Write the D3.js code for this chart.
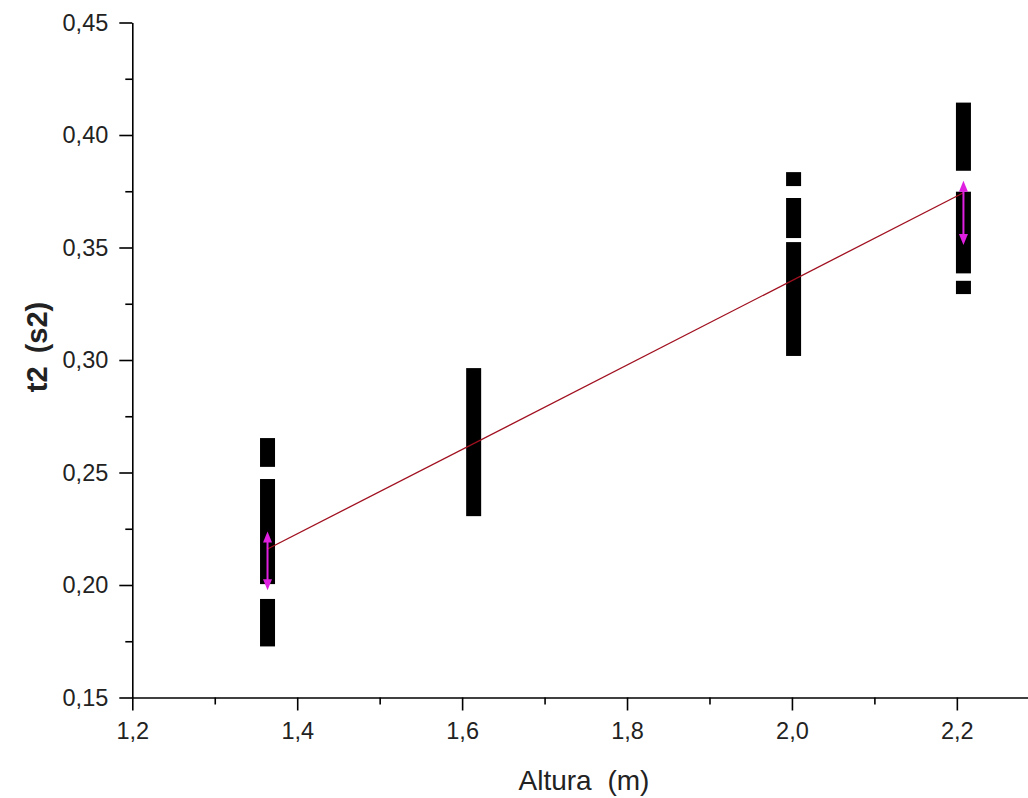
<!DOCTYPE html>
<html>
<head>
<meta charset="utf-8">
<script src="https://cdn.jsdelivr.net/npm/d3@7"></script>
<style>
  body { margin: 0; background: #fff; }
  svg { display: block; font-family: "Liberation Sans", Arial, sans-serif; }
</style>
</head>
<body>
<div id="chart"></div>
<script>
// bars: each altura has a few stacked black segments [bottom, top] in t2 units
var barX = [1.364, 1.614, 2.002, 2.208];
var barSegs = [
    [[0.1727, 0.1938], [0.2004, 0.2471], [0.2525, 0.2653]],
    [[0.2306, 0.2964]],
    [[0.3018, 0.3524], [0.3542, 0.3720], [0.3773, 0.3835]],
    [[0.3293, 0.3352], [0.3385, 0.3748], [0.3841, 0.4144]]
];

// magenta error arrows
var errX = [1.364, 2.208];
var errLow = [0.1977, 0.3511];
var errHigh = [0.2238, 0.3797];

// linear fit
var fitSlope = 0.1876;
var fitIntercept = -0.0399;

var xTicks = [1.2, 1.4, 1.6, 1.8, 2.0, 2.2];
var yTicks = [0.15, 0.20, 0.25, 0.30, 0.35, 0.40, 0.45];

var width = 1028, height = 798;

var svg = d3.select("#chart").append("svg")
    .attr("width", width)
    .attr("height", height);

var x = d3.scaleLinear().domain([1.2, 2.3]).range([132.3, 1039.3]);
var y = d3.scaleLinear().domain([0.15, 0.45]).range([697.5, 22.5]);

var loc = d3.formatLocale({decimal: ",", thousands: ".", grouping: [3], currency: ["", ""]});
var fx = loc.format(".1f"), fy = loc.format(".2f");

// minor ticks first
svg.append("g")
    .attr("transform", "translate(0,697.5)")
    .call(d3.axisBottom(x).tickValues(d3.range(1.3, 2.3, 0.2)).tickSize(7).tickFormat(""))
    .call(g => g.select(".domain").remove());
svg.append("g")
    .attr("transform", "translate(132.3,0)")
    .call(d3.axisLeft(y).tickValues(d3.range(0.175, 0.45, 0.05)).tickSize(7).tickFormat(""))
    .call(g => g.select(".domain").remove());

var xAxis = svg.append("g")
    .attr("transform", "translate(0,697.5)")
    .call(d3.axisBottom(x).tickValues(xTicks).tickSize(13).tickSizeOuter(0).tickPadding(7).tickFormat(fx));
var yAxis = svg.append("g")
    .attr("transform", "translate(132.3,0)")
    .call(d3.axisLeft(y).tickValues(yTicks).tickSize(13).tickSizeOuter(0).tickPadding(11).tickFormat(fy));

svg.selectAll(".tick line, .domain").attr("stroke", "#000").attr("stroke-width", 1.6);
svg.selectAll(".tick text").attr("font-size", 23.5).attr("fill", "#222")
    .attr("font-family", "'Liberation Sans', Arial, sans-serif");
xAxis.selectAll(".tick text").attr("dy", "0.9em");

// black bars
barX.forEach((bx, i) => {
    svg.append("g").selectAll("rect")
        .data(barSegs[i])
        .enter()
        .append("rect")
        .attr("x", x(bx) - 7.5)
        .attr("width", 15)
        .attr("y", d => y(d[1]))
        .attr("height", d => y(d[0]) - y(d[1]))
        .attr("fill", "#000");
});

// fit line
var x0 = d3.min(barX), x1 = d3.max(barX);
svg.append("line")
    .attr("x1", x(x0)).attr("y1", y(fitSlope * x0 + fitIntercept))
    .attr("x2", x(x1)).attr("y2", y(fitSlope * x1 + fitIntercept))
    .attr("stroke", "#a01020")
    .attr("stroke-width", 1.3);

// magenta error arrows
var mag = "#e020e0";
errX.forEach((ex, i) => {
    var cx = x(ex), top = y(errHigh[i]), bot = y(errLow[i]);
    svg.append("line")
        .attr("x1", cx).attr("x2", cx)
        .attr("y1", top + 6).attr("y2", bot - 6)
        .attr("stroke", mag).attr("stroke-width", 2);
    svg.append("path")
        .attr("d", `M${cx},${top} L${cx - 4.5},${top + 11} L${cx + 4.5},${top + 11} Z`)
        .attr("fill", mag);
    svg.append("path")
        .attr("d", `M${cx},${bot} L${cx - 4.5},${bot - 11} L${cx + 4.5},${bot - 11} Z`)
        .attr("fill", mag);
});

// axis titles
svg.append("text")
    .attr("x", 584)
    .attr("y", 790)
    .attr("text-anchor", "middle")
    .attr("font-size", 28)
    .attr("word-spacing", 8)
    .attr("fill", "#222")
    .text("Altura (m)");

svg.append("text")
    .attr("transform", "translate(47,347) rotate(-90)")
    .attr("text-anchor", "middle")
    .attr("font-size", 29)
    .attr("font-weight", "bold")
    .attr("word-spacing", 5)
    .attr("fill", "#222")
    .text("t2 (s2)");
</script>
</body>
</html>
